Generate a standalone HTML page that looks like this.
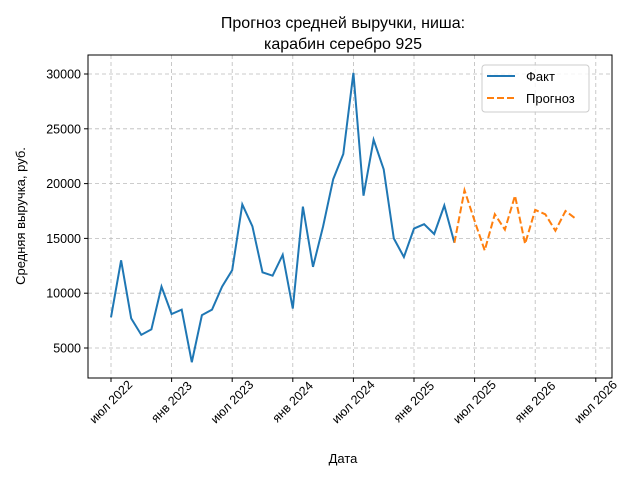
<!DOCTYPE html>
<html><head><meta charset="utf-8"><style>body{margin:0;background:#fff}svg{font-family:"Liberation Sans","DejaVu Sans",sans-serif}</style></head>
<body><svg id="c" width="640" height="480" xmlns="http://www.w3.org/2000/svg"></svg>
<script>
const factValues=[7800,13000,7700,6200,6700,10600,8100,8500,3700,8000,8500,10600,12100,18100,16100,11900,11600,13500,8600,17900,12400,16100,20400,22700,30100,18900,24000,21300,15000,13300,15900,16300,15400,18000,14600];
const forecastValues=[14600,19400,16600,13900,17200,15800,18900,14500,17600,17200,15700,17500,16800];
const forecastStart=34;
const yTicks=[5000,10000,15000,20000,25000,30000];
const xTickLabels=["июл 2022","янв 2023","июл 2023","янв 2024","июл 2024","янв 2025","июл 2025","янв 2026","июл 2026"];
const L=88,R=612,T=55,B=378;
const xs=m=>111+m*10.1;
const ys=v=>348-(v-5000)*0.01096;
const s=document.getElementById('c');const NS="http://www.w3.org/2000/svg";
function el(t,a,txt){const e=document.createElementNS(NS,t);for(const k in a)e.setAttribute(k,a[k]);if(txt!==undefined)e.textContent=txt;s.appendChild(e);return e;}
yTicks.forEach(v=>{const y=ys(v);
const g=el('line',{x1:L,x2:R,y1:y,y2:y,stroke:'#bbb','stroke-dasharray':'4,3','stroke-width':0.8});
const t=el('line',{x1:L-4,x2:L,y1:y,y2:y,stroke:'#000'});
const l=el('text',{x:L-7,y:y+4.5,'text-anchor':'end','font-size':12.5},v);});
xTickLabels.forEach((lab,i)=>{const x=xs(i*6);
const g=el('line',{x1:x,x2:x,y1:T,y2:B,stroke:'#bbb','stroke-dasharray':'4,3','stroke-width':0.8});
const t=el('line',{x1:x,x2:x,y1:B,y2:B+4,stroke:'#000'});
const cy=402;
const l=el('text',{x:x,y:cy+4,'text-anchor':'middle','font-size':12.5,transform:`rotate(-45 ${x} ${cy})`},lab);});
const f=el('polyline',{points:factValues.map((v,i)=>xs(i)+','+ys(v)).join(' '),fill:'none',stroke:'#1f77b4','stroke-width':2});

const p=el('polyline',{points:forecastValues.map((v,i)=>xs(forecastStart+i)+','+ys(v)).join(' '),fill:'none',stroke:'#ff7f0e','stroke-width':2,'stroke-dasharray':'7,3'});

const fr=el('rect',{x:L,y:T,width:R-L,height:B-T,fill:'none',stroke:'#000','stroke-width':1});
const lg=el('rect',{x:482,y:65,width:107,height:47,fill:'#fff','fill-opacity':0.8,stroke:'#ccc',rx:3});
let a=el('line',{x1:487,x2:515,y1:76,y2:76,stroke:'#1f77b4','stroke-width':2});
a=el('text',{x:526,y:81,'font-size':13},'Факт');
a=el('line',{x1:487,x2:515,y1:98,y2:98,stroke:'#ff7f0e','stroke-width':2,'stroke-dasharray':'7,3'});
a=el('text',{x:526,y:103,'font-size':13},'Прогноз');
a=el('text',{x:343,y:28,'text-anchor':'middle','font-size':16},'Прогноз средней выручки, ниша:');
a=el('text',{x:343,y:49,'text-anchor':'middle','font-size':16},'карабин серебро 925');
a=el('text',{x:343,y:463,'text-anchor':'middle','font-size':13},'Дата');
a=el('text',{x:25,y:216,'text-anchor':'middle','font-size':13,transform:'rotate(-90 25 216)'},'Средняя выручка, руб.');
</script></body></html>
